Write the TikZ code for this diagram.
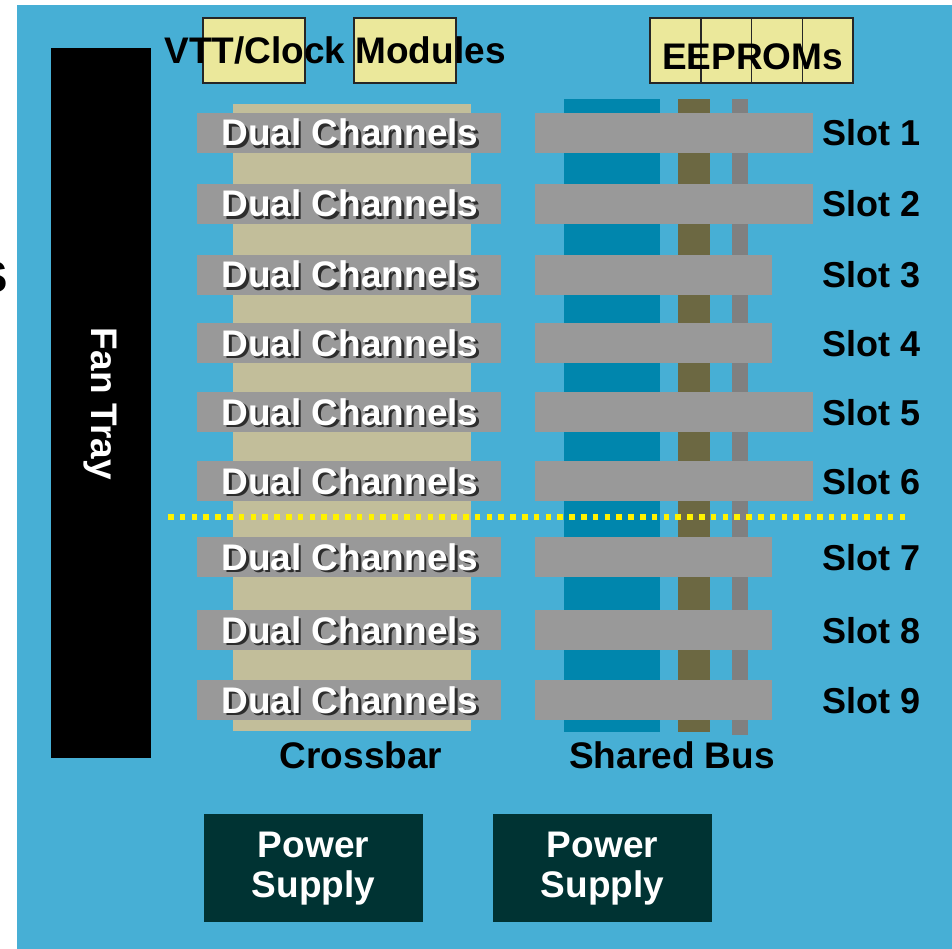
\documentclass[tikz,border=0pt]{standalone}
\usepackage{fontspec}
\setmainfont{Liberation Sans}
\usetikzlibrary{positioning}

\definecolor{chassis}{RGB}{71,175,213}
\definecolor{crossbar}{RGB}{194,190,154}
\definecolor{cardgray}{RGB}{153,153,153}
\definecolor{busteal}{RGB}{0,134,173}
\definecolor{busolive}{RGB}{108,104,66}
\definecolor{busgray}{RGB}{128,128,128}
\definecolor{module}{RGB}{235,232,155}
\definecolor{power}{RGB}{0,51,51}

\begin{document}
\begin{tikzpicture}[x=1pt,y=-1pt,
    label/.style={font=\bfseries\fontsize{37}{40}\selectfont,inner sep=0pt},
    chan/.style={label,text=white,anchor=base},
    chanshadow/.style={label,text=black,opacity=0.7,anchor=base},
    slot/.style={label,font=\bfseries\fontsize{36}{40}\selectfont,text=black,anchor=base west},
    modbox/.style={fill=module,draw=black!85,line width=1.5pt},
    psu/.style={fill=power,draw=none},
    split/.style={draw=yellow,line width=6pt,dash pattern=on 5.5pt off 6.3pt}]
    \useasboundingbox (0,0) rectangle (952,949);
    \fill[white] (0,0) rectangle (952,949);
    \fill[chassis] (17,5) rectangle (952,949);
    \node[label,font=\bfseries\fontsize{44}{48}\selectfont,anchor=east] (cut) at (8,277) {S};
    
    % fan tray
    \fill[black] (51,48) rectangle (151,758);
    \node[label,text=white,rotate=-90] (fan) at (100,404) {Fan Tray};
    
    % crossbar and shared bus
    \fill[crossbar] (233,104) rectangle (471,731);
    \fill[busteal] (564,99) rectangle (660,732);
    \fill[busolive] (678,99) rectangle (710,732);
    \fill[busgray] (732,99) rectangle (748,735);
    
    % modules
    \draw[modbox] (203,18) rectangle (305,83);
    \draw[modbox] (354,18) rectangle (456,83);
    \foreach \k in {0,...,3}
        \draw[modbox] (650+50.75*\k,18) rectangle +(50.75,65);
    \node[label,anchor=base] (vtt) at (335,64) {VTT/Clock Modules};
    \node[label,anchor=base] (eeprom) at (752.5,70) {EEPROMs};
    
    % slots
    \foreach \i/\y/\r in {1/133/813,2/204/813,3/275/772,4/343/772,5/412/813,
                          6/481/813,7/557/772,8/630/772,9/700/772} {
        \fill[cardgray] (197,\y-20) rectangle (501,\y+20);
        \fill[cardgray] (535,\y-20) rectangle (\r,\y+20);
        \node[chanshadow] (dcs\i) at (352.5,\y+15.5) {Dual Channels};
        \node[chan] (dc\i) at (350,\y+13) {Dual Channels};
        \node[slot] (slot\i) at (822,\y+13) {Slot \i};
    }
    
    \coordinate (split west) at (168,517);
    \coordinate (split east) at (905,517);
    \draw[split] (split west) -- (split east);
    
    \node[label,anchor=base] (xbar) at (361,768) {Crossbar};
    \node[label,anchor=base] (bus) at (672,768) {Shared Bus};
    
    % power supplies
    \fill[psu] (204,814) rectangle (423,922);
    \fill[psu] (493,814) rectangle (712,922);
    \node[label,text=white,align=center] (psu1) at (313.5,869) {Power\\Supply};
    \node[label,text=white,align=center] (psu2) at (602.5,869) {Power\\Supply};
\end{tikzpicture}
\end{document}
